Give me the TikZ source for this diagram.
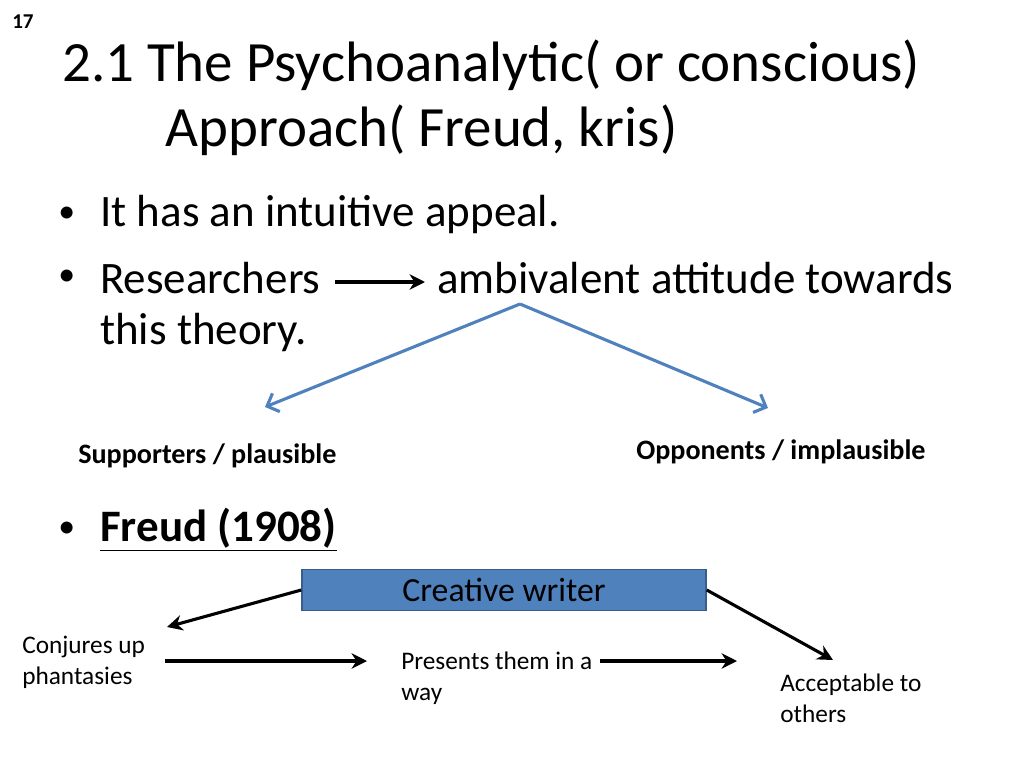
\documentclass[tikz,border=0pt]{standalone}
\usepackage{fontspec}
\setmainfont{Carlito}
\usepackage{tikz}
\usetikzlibrary{arrows.meta, positioning}
\definecolor{slideblue}{HTML}{4F81BD}
\definecolor{boxedge}{HTML}{385D8A}
\tikzset{
  txt/.style={anchor=west, inner sep=0pt},
  big/.style={txt, font=\fontsize{32}{36}\selectfont},
  note/.style={txt, font=\fontsize{18}{22}\selectfont, align=left},
  blk/.style={-{Stealth[length=11pt,width=11pt]}, line width=2.2pt},
  blu/.style={-{Straight Barb[length=7pt,width=14pt]}, line width=2.2pt, slideblue}
}
\begin{document}
\begin{tikzpicture}[x=0.025cm, y=-0.025cm]
    \useasboundingbox (0,0) rectangle (1024,768);
    \node (num) [txt, font=\bfseries\fontsize{15}{17}\selectfont] at (12,22) {17};

    \node (t1) [txt, font=\fontsize{40.5}{44}\selectfont] at (62,65) {2.1 The Psychoanalytic( or conscious)};
    \node (t2) [txt, font=\fontsize{40.5}{44}\selectfont] at (165,130) {Approach( Freud, kris)};

    \node (b1) [big] at (58,215) {\fontsize{24}{28}\selectfont•};
    \node (l1) [big] at (100,215) {It has an intuitive appeal.};
    \node (b2) [big] at (58,278) {\fontsize{24}{28}\selectfont•};
    \node (res) [big] at (100,278) {Researchers};
    \node (amb) [big] at (437,278) {ambivalent attitude towards};
    \node (thy) [big] at (100,333) {this theory.};
    \coordinate (split) at (520,304);

    \node (sup) [txt, font=\bfseries\fontsize{20}{24}\selectfont] at (78,456) {Supporters / plausible};
    \node (opp) [txt, font=\bfseries\fontsize{20}{24}\selectfont] at (636,452) {Opponents / implausible};
    \coordinate (supend) at (265,407);
    \coordinate (oppend) at (768,408);

    \node (b3) [big] at (58,530) {\fontsize{24}{28}\selectfont•};
    \node (fr) [big, font=\bfseries\fontsize{32}{36}\selectfont] at (100,530) {\underline{Freud (1908)}};

    \node (cw) [draw=boxedge, fill=slideblue, line width=1pt, inner sep=0pt,
        minimum width=10.1cm, minimum height=1.03cm, font=\fontsize{24}{28}\selectfont] at (504,590) {Creative writer};
    \node (conj) [note] at (22,662) {Conjures up\\phantasies};
    \node (pres) [note] at (401,678) {Presents them in a\\way};
    \node (acc) [note] at (780,698) {Acceptable to\\others};
    \coordinate (conjend) at (167,627);
    \coordinate (accend) at (833,660);

\draw [blk] (335,282) -- (425,282);
\draw [blu] (split) -- (supend);
\draw [blu] (split) -- (oppend);
\draw [blk] (cw.west) -- (conjend);
\draw [blk] (cw.east) -- (accend);
\draw [blk] (165,661) -- (367,661);
\draw [blk] (600,661) -- (737,661);
\end{tikzpicture}
\end{document}
